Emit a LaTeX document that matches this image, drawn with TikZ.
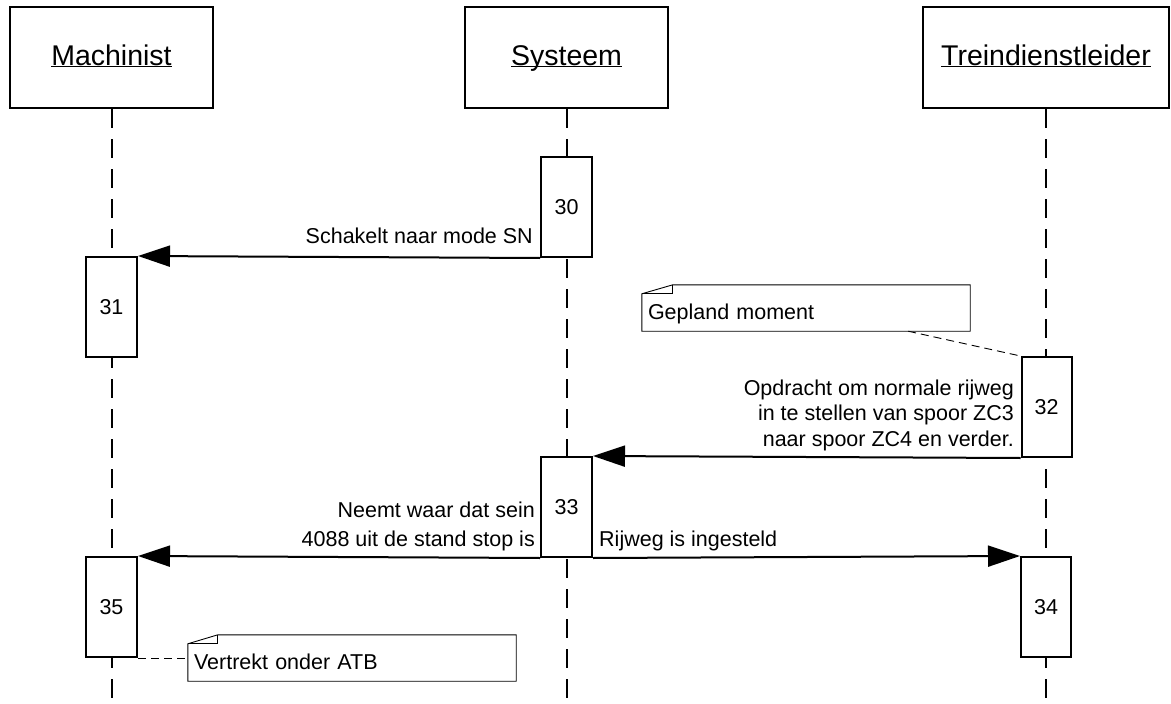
\documentclass[tikz,border=0pt]{standalone}
\usepackage{fontspec}
\setmainfont{Liberation Sans}
\usetikzlibrary{arrows.meta,calc}
\newcommand\actname[1]{\underline{\smash{#1}}}
\tikzset{
  actor/.style={draw, line width=2pt, fill=white, minimum width=203pt, minimum height=101pt, inner sep=0pt, text height=20pt, text depth=5pt, font=\fontsize{28.5}{32}\selectfont},
  lifeline/.style={line width=2pt, dash pattern=on 19pt off 11pt},
  act/.style={draw, line width=2pt, fill=white, minimum width=51pt, minimum height=100pt, inner sep=0pt, font=\fontsize{21.5}{25}\selectfont},
  msg/.style={line width=2pt, -{Triangle[length=32pt 0 0, width=21pt 0 0]}},
  lbl/.style={inner sep=0pt, font=\fontsize{21.5}{25.5}\selectfont},
  notebox/.style={minimum width=328pt, minimum height=46pt, inner xsep=6pt, inner ysep=0pt, text width=316pt, text height=22pt, text depth=0pt, align=left, font=\fontsize{21.5}{25.5}\selectfont},
  noteline/.style={line width=0.9pt},
  notelink/.style={line width=0.9pt, dash pattern=on 8pt off 5pt},
}
\begin{document}
\begin{tikzpicture}[x=1pt, y=-1pt]
\path[fill=white] (0,0) rectangle (1171,704);
\useasboundingbox (0,0) rectangle (1171,704);

% actors
\node[actor] (m) at (111.5,57.5) {\actname{Machinist}};
\node[actor] (s) at (566.5,57.5) {\actname{Systeem}};
\node[actor, minimum width=246pt] (t) at (1046,57.5) {\actname{Treindienstleider}};

% lifeline ends
\coordinate (mEnd) at (111.5,704);
\coordinate (sEnd) at (566.5,704);
\coordinate (tEnd) at (1046,704);
\draw[lifeline] (m.south) -- (mEnd);
\draw[lifeline] (s.south) -- (sEnd);
\draw[lifeline] (t.south) -- (tEnd);

% activations
\node[act] (a30) at (566.5,207) {30};
\node[act] (a31) at (111.5,307) {31};
\node[act, minimum width=50pt] (a32) at (1046.5,407) {32};
\node[act] (a33) at (566.5,507) {33};
\node[act, minimum width=50pt] (a34) at (1046,607) {34};
\node[act] (a35) at (111.5,607) {35};

% messages
\draw[msg] (a30.south west) -- (a31.north east);
\draw[msg] (a32.south west) -- (a33.north east);
\draw[msg] (a33.south west) -- (a35.north east);
\draw[msg] (a33.south east) -- (a34.north west);

% message labels
\node[lbl, anchor=base east] (l30) at (533,243) {Schakelt naar mode SN};
\node[lbl, anchor=north east, align=right] (l32) at (1014,379.5) {Opdracht om normale rijweg\\in te stellen van spoor ZC3\\naar spoor ZC4 en verder.};
\node[lbl, anchor=north east, align=right, font=\fontsize{21.5}{29}\selectfont] (l33a) at (535,501.5) {Neemt waar dat sein\\4088 uit de stand stop is};
\node[lbl, anchor=base west] (l33b) at (599,546) {Rijweg is ingesteld};

% notes
\node[notebox] (n1) at (806,308) {Gepland moment};
\draw[noteline] (n1.south west) -- ($(n1.north west)+(0,9)$) -- ($(n1.north west)+(31,0)$) -- (n1.north east) -- (n1.south east) -- cycle;
\draw[noteline] ($(n1.north west)+(0,9)$) -- ($(n1.north west)+(31,9)$) -- ($(n1.north west)+(31,0)$);
\draw[notelink] ($(n1.south west)!0.811!(n1.south east)$) -- (a32.north west);

\node[notebox] (n2) at (352,658) {Vertrekt onder ATB};
\draw[noteline] (n2.south west) -- ($(n2.north west)+(0,9)$) -- ($(n2.north west)+(30,0)$) -- (n2.north east) -- (n2.south east) -- cycle;
\draw[noteline] ($(n2.north west)+(0,9)$) -- ($(n2.north west)+(30,9)$) -- ($(n2.north west)+(30,0)$);
\draw[notelink] (a35.south east) -- (a35.south east -| n2.west);
\end{tikzpicture}
\end{document}
